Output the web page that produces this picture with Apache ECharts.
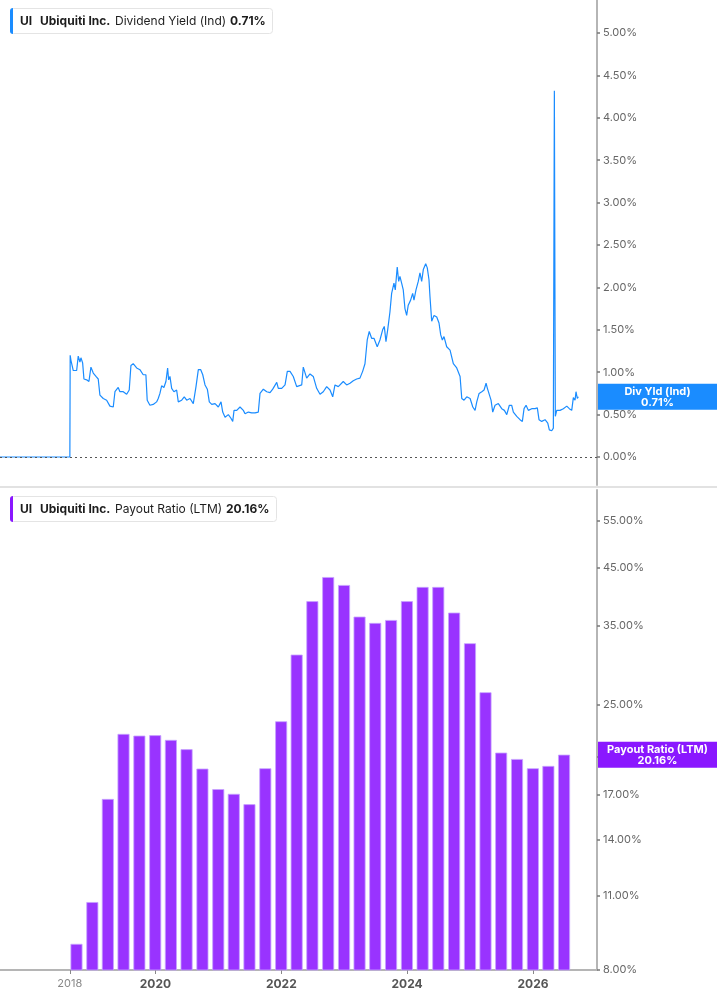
<!DOCTYPE html>
<html>
<head>
<meta charset="utf-8">
<title>UI Dividend Yield / Payout Ratio</title>
<script src="https://cdn.jsdelivr.net/npm/echarts@6/dist/echarts.min.js"></script>
<style>
  html, body { margin: 0; padding: 0; background: #fff; }
  #chart { width: 717px; height: 1005px; }
</style>
</head>
<body>
<div id="chart"></div>
<script>
// dividend yield (ind), % — dates as decimal years
const yieldYears = [2017.529, 2018.640, 2018.645, 2018.657, 2018.694, 2018.748, 2018.773, 2018.800, 2018.816, 2018.843,
  2018.864, 2018.907, 2018.943, 2018.975, 2019.012, 2019.055, 2019.091, 2019.118, 2019.171, 2019.225,
  2019.277, 2019.330, 2019.357, 2019.409, 2019.436, 2019.489, 2019.543, 2019.584, 2019.611, 2019.647,
  2019.702, 2019.754, 2019.781, 2019.806, 2019.849, 2019.870, 2019.913, 2019.965, 2020.019, 2020.045,
  2020.072, 2020.099, 2020.135, 2020.167, 2020.194, 2020.210, 2020.231, 2020.258, 2020.294, 2020.337,
  2020.363, 2020.417, 2020.458, 2020.496, 2020.549, 2020.601, 2020.644, 2020.681, 2020.719, 2020.751,
  2020.787, 2020.824, 2020.855, 2020.894, 2020.946, 2020.998, 2021.041, 2021.068, 2021.105, 2021.157,
  2021.196, 2021.227, 2021.248, 2021.291, 2021.343, 2021.396, 2021.423, 2021.475, 2021.529, 2021.582,
  2021.634, 2021.661, 2021.714, 2021.768, 2021.820, 2021.863, 2021.927, 2021.952, 2022.006, 2022.059,
  2022.095, 2022.138, 2022.190, 2022.244, 2022.324, 2022.349, 2022.403, 2022.456, 2022.508, 2022.562,
  2022.615, 2022.667, 2022.721, 2022.774, 2022.817, 2022.853, 2022.906, 2022.985, 2023.039, 2023.092,
  2023.144, 2023.198, 2023.250, 2023.293, 2023.330, 2023.366, 2023.398, 2023.436, 2023.473, 2023.525,
  2023.568, 2023.611, 2023.637, 2023.664, 2023.691, 2023.727, 2023.754, 2023.791, 2023.812, 2023.843,
  2023.866, 2023.886, 2023.913, 2023.939, 2023.966, 2023.993, 2024.018, 2024.056, 2024.088, 2024.109,
  2024.141, 2024.177, 2024.204, 2024.231, 2024.257, 2024.295, 2024.320, 2024.347, 2024.363, 2024.390,
  2024.427, 2024.470, 2024.506, 2024.533, 2024.559, 2024.585, 2024.628, 2024.681, 2024.733, 2024.787,
  2024.840, 2024.867, 2024.903, 2024.946, 2024.999, 2025.042, 2025.078, 2025.105, 2025.142, 2025.185,
  2025.221, 2025.253, 2025.274, 2025.305, 2025.332, 2025.359, 2025.396, 2025.448, 2025.502, 2025.544,
  2025.582, 2025.623, 2025.661, 2025.687, 2025.741, 2025.793, 2025.830, 2025.857, 2025.889, 2025.925,
  2025.979, 2026.032, 2026.068, 2026.095, 2026.138, 2026.191, 2026.234, 2026.259, 2026.297, 2026.323,
  2026.339, 2026.354, 2026.377, 2026.429, 2026.482, 2026.536, 2026.577, 2026.615, 2026.641, 2026.668,
  2026.683, 2026.704, 2026.720];
const yieldValues = [0, 0, 1.20, 1.14, 1.02, 1.02, 1.19, 1.12, 1.17, 1.11,
  0.92, 0.91, 0.89, 1.06, 0.99, 0.95, 0.92, 0.73, 0.69, 0.67,
  0.60, 0.59, 0.77, 0.82, 0.77, 0.77, 0.74, 0.79, 1.08, 1.10,
  1.05, 1.03, 1.05, 0.97, 0.97, 0.67, 0.61, 0.62, 0.65, 0.69,
  0.75, 0.84, 0.82, 0.89, 1.05, 0.91, 0.95, 0.81, 0.77, 0.79,
  0.65, 0.67, 0.71, 0.67, 0.69, 0.63, 0.83, 1.03, 1.03, 0.97,
  0.85, 0.80, 0.65, 0.62, 0.63, 0.59, 0.65, 0.53, 0.47, 0.50,
  0.46, 0.42, 0.55, 0.55, 0.59, 0.55, 0.51, 0.53, 0.52, 0.52,
  0.53, 0.75, 0.80, 0.77, 0.76, 0.80, 0.88, 0.81, 0.81, 0.85,
  1.01, 1.01, 0.95, 0.83, 0.85, 1.06, 0.93, 0.98, 0.95, 0.81,
  0.74, 0.77, 0.83, 0.79, 0.71, 0.85, 0.83, 0.89, 0.85, 0.87,
  0.90, 0.92, 0.93, 1.01, 1.10, 1.38, 1.48, 1.40, 1.40, 1.30,
  1.38, 1.50, 1.54, 1.36, 1.50, 1.71, 1.93, 2.05, 1.97, 2.24,
  2.07, 2.13, 2.05, 1.97, 1.75, 1.67, 1.79, 1.85, 1.93, 1.85,
  1.97, 2.07, 2.17, 2.07, 2.21, 2.28, 2.23, 2.09, 1.89, 1.60,
  1.67, 1.65, 1.58, 1.44, 1.38, 1.42, 1.30, 1.26, 1.10, 1.05,
  0.95, 0.69, 0.67, 0.71, 0.69, 0.59, 0.55, 0.65, 0.75, 0.77,
  0.79, 0.87, 0.81, 0.79, 0.67, 0.53, 0.61, 0.63, 0.57, 0.55,
  0.50, 0.61, 0.61, 0.53, 0.48, 0.44, 0.42, 0.57, 0.61, 0.55,
  0.57, 0.57, 0.58, 0.44, 0.42, 0.44, 0.40, 0.32, 0.31, 0.34,
  4.32, 0.48, 0.55, 0.55, 0.57, 0.60, 0.57, 0.55, 0.70, 0.67,
  0.77, 0.69, 0.71];

// payout ratio (LTM), % per quarter
const payoutDates = ['2018-09-30', '2018-12-31', '2019-03-31', '2019-06-30', '2019-09-30', '2019-12-31',
  '2020-03-31', '2020-06-30', '2020-09-30', '2020-12-31', '2021-03-31', '2021-06-30',
  '2021-09-30', '2021-12-31', '2022-03-31', '2022-06-30', '2022-09-30', '2022-12-31',
  '2023-03-31', '2023-06-30', '2023-09-30', '2023-12-31', '2024-03-31', '2024-06-30',
  '2024-09-30', '2024-12-31', '2025-03-31', '2025-06-30', '2025-09-30', '2025-12-31',
  '2026-03-31', '2026-06-30'];
const payoutValues = [8.95, 10.71, 16.67, 22.04, 21.88, 21.92, 21.48, 20.64, 18.99, 17.39, 17.04, 16.30,
  19.02, 23.27, 30.98, 38.97, 43.22, 41.77, 36.47, 35.49, 35.94, 38.97, 41.42, 41.42,
  37.10, 32.53, 26.36, 20.34, 19.79, 19.02, 19.21, 20.16];

const yearTicks = ['2018-08-22', '2020-01-01', '2022-01-01', '2024-01-01', '2026-01-01'];
const yieldTicks = [0, 0.5, 1, 1.5, 2, 2.5, 3, 3.5, 4, 4.5, 5];
const payoutTicks = [8, 11, 14, 17, 20, 25, 35, 45, 55];

const lastYield = 0.71;
const lastPayout = 20.16;

function yearToTime(y) {
  const yr = Math.floor(y);
  const start = Date.UTC(yr, 0, 1);
  const end = Date.UTC(yr + 1, 0, 1);
  return start + (y - yr) * (end - start);
}
function dateToTime(s) {
  const p = s.split('-').map(Number);
  return Date.UTC(p[0], p[1] - 1, p[2]);
}

const xMin = yearToTime(2017.529);
const xMax = yearToTime(2027.017);
const FONT = 'Inter, "Noto Sans", sans-serif';
const BLUE = '#1a8cff';
const PURPLE = '#8a17ff';

const yieldData = yieldYears.map((y, i) => [yearToTime(y), yieldValues[i]]);
const payoutData = payoutDates.map((d, i) => [dateToTime(d), payoutValues[i]]);
const tickTimes = yearTicks.map(dateToTime);

const yAxisCommon = {
  position: 'right',
  axisLine: { show: true, lineStyle: { color: '#b5b5b5', width: 2 } },
  axisTick: { show: true, length: 3, lineStyle: { color: '#777', width: 1.5 } },
  splitLine: { show: false },
  axisLabel: { color: '#666', fontSize: 11, fontFamily: FONT, margin: 6 }
};

function header(y, color, metric, value, valueX, boxW) {
  const mid = y + 13;
  const txt = (x, text, weight) => ({
    type: 'text', x: x, y: mid, z: 20,
    style: { text: text, font: weight + ' 12px ' + FONT, fill: '#1d1d1d', verticalAlign: 'middle' }
  });
  return [
    { type: 'rect', z: 20, shape: { x: 10.5, y: y + 0.5, width: boxW, height: 25, r: 3 },
      style: { fill: '#fff', stroke: '#e4e4e4', lineWidth: 1 } },
    { type: 'rect', z: 21, shape: { x: 10, y: y, width: 3, height: 26, r: [3, 0, 0, 3] },
      style: { fill: color } },
    txt(20, 'UI', 'bold'),
    txt(40, 'Ubiquiti Inc.', 'bold'),
    txt(115, metric, 'normal'),
    txt(valueX, value, 'bold')
  ];
}

function endLabel(color, name, value) {
  return {
    show: true,
    position: 'end',
    distance: 1,
    formatter: '{t|' + name + '}\n{v|' + value + '}',
    backgroundColor: color,
    padding: [2, 0, 1, 0],
    width: 119,
    rich: {
      t: { color: '#fff', fontWeight: 'bold', fontSize: 11, lineHeight: 11.5, fontFamily: FONT, align: 'center' },
      v: { color: '#fff', fontWeight: 'bold', fontSize: 11, lineHeight: 11.5, fontFamily: FONT, align: 'center' }
    }
  };
}

const chart = echarts.init(document.getElementById('chart'), null, { renderer: 'canvas' });

chart.setOption({
  animation: false,
  backgroundColor: '#fff',
  textStyle: { fontFamily: FONT },
  grid: [
    { left: 0, right: 120, top: 0, height: 485 },
    { left: 0, right: 120, top: 490, height: 480 }
  ],
  xAxis: [
    { type: 'value', gridIndex: 0, min: xMin, max: xMax, show: false },
    {
      type: 'value', gridIndex: 1, min: xMin, max: xMax,
      axisLine: { show: true, lineStyle: { color: '#b5b5b5', width: 2 } },
      axisTick: { show: true, length: 4, customValues: tickTimes, lineStyle: { color: '#888' } },
      splitLine: { show: false },
      axisLabel: {
        customValues: tickTimes,
        margin: 8,
        formatter: function (v) {
          const yr = new Date(v).getUTCFullYear();
          return v < dateToTime('2019-01-01') ? '{s|' + yr + '}' : '{b|' + yr + '}';
        },
        rich: {
          s: { color: '#888', fontSize: 11, fontFamily: FONT },
          b: { color: '#555', fontSize: 12, fontWeight: 'bold', fontFamily: FONT }
        }
      }
    }
  ],
  yAxis: [
    Object.assign({}, yAxisCommon, {
      type: 'value', gridIndex: 0, min: -0.33, max: 5.389,
      axisTick: Object.assign({}, yAxisCommon.axisTick, { customValues: yieldTicks }),
      axisLabel: Object.assign({}, yAxisCommon.axisLabel, {
        customValues: yieldTicks,
        formatter: v => v.toFixed(2) + '%'
      })
    }),
    Object.assign({}, yAxisCommon, {
      type: 'log', gridIndex: 1, min: 8, max: 62.8,
      axisTick: Object.assign({}, yAxisCommon.axisTick, { customValues: payoutTicks }),
      axisLabel: Object.assign({}, yAxisCommon.axisLabel, {
        customValues: payoutTicks,
        formatter: v => Number(v).toFixed(2) + '%'
      })
    })
  ],
  series: [
    {
      // zero reference line
      type: 'line', xAxisIndex: 0, yAxisIndex: 0, data: [], z: 1,
      markLine: {
        silent: true, symbol: 'none',
        lineStyle: { color: '#555', type: [2, 3], width: 1 },
        label: { show: false },
        data: [{ yAxis: 0 }]
      }
    },
    {
      name: 'Dividend Yield (Ind)',
      type: 'line', xAxisIndex: 0, yAxisIndex: 0, z: 3,
      data: yieldData,
      showSymbol: false,
      lineStyle: { color: BLUE, width: 1.2 },
      markLine: {
        silent: true, symbol: 'none', z: 10,
        lineStyle: { color: 'rgba(0,0,0,0)', width: 0 },
        label: endLabel(BLUE, 'Div Yld (Ind)', lastYield.toFixed(2) + '%'),
        data: [{ yAxis: lastYield }]
      }
    },
    {
      name: 'Payout Ratio (LTM)',
      type: 'bar', xAxisIndex: 1, yAxisIndex: 1,
      data: payoutData,
      barWidth: 12,
      clip: true,
      itemStyle: { color: '#9933ff', borderColor: '#c7a3ff', borderWidth: 0.8 },
      markLine: {
        silent: true, symbol: 'none', z: 10,
        lineStyle: { color: 'rgba(0,0,0,0)', width: 0 },
        label: endLabel(PURPLE, 'Payout Ratio (LTM)', lastPayout.toFixed(2) + '%'),
        data: [{ yAxis: lastPayout }]
      }
    }
  ],
  graphic: [
    { type: 'rect', z: 10, shape: { x: 0, y: 486, width: 717, height: 2 }, style: { fill: '#e2e2e2' } }
  ].concat(
    header(8, BLUE, 'Dividend Yield (Ind)', lastYield.toFixed(2) + '%', 230, 262),
    header(496, PURPLE, 'Payout Ratio (LTM)', lastPayout.toFixed(2) + '%', 226, 266)
  )
});
</script>
</body>
</html>
